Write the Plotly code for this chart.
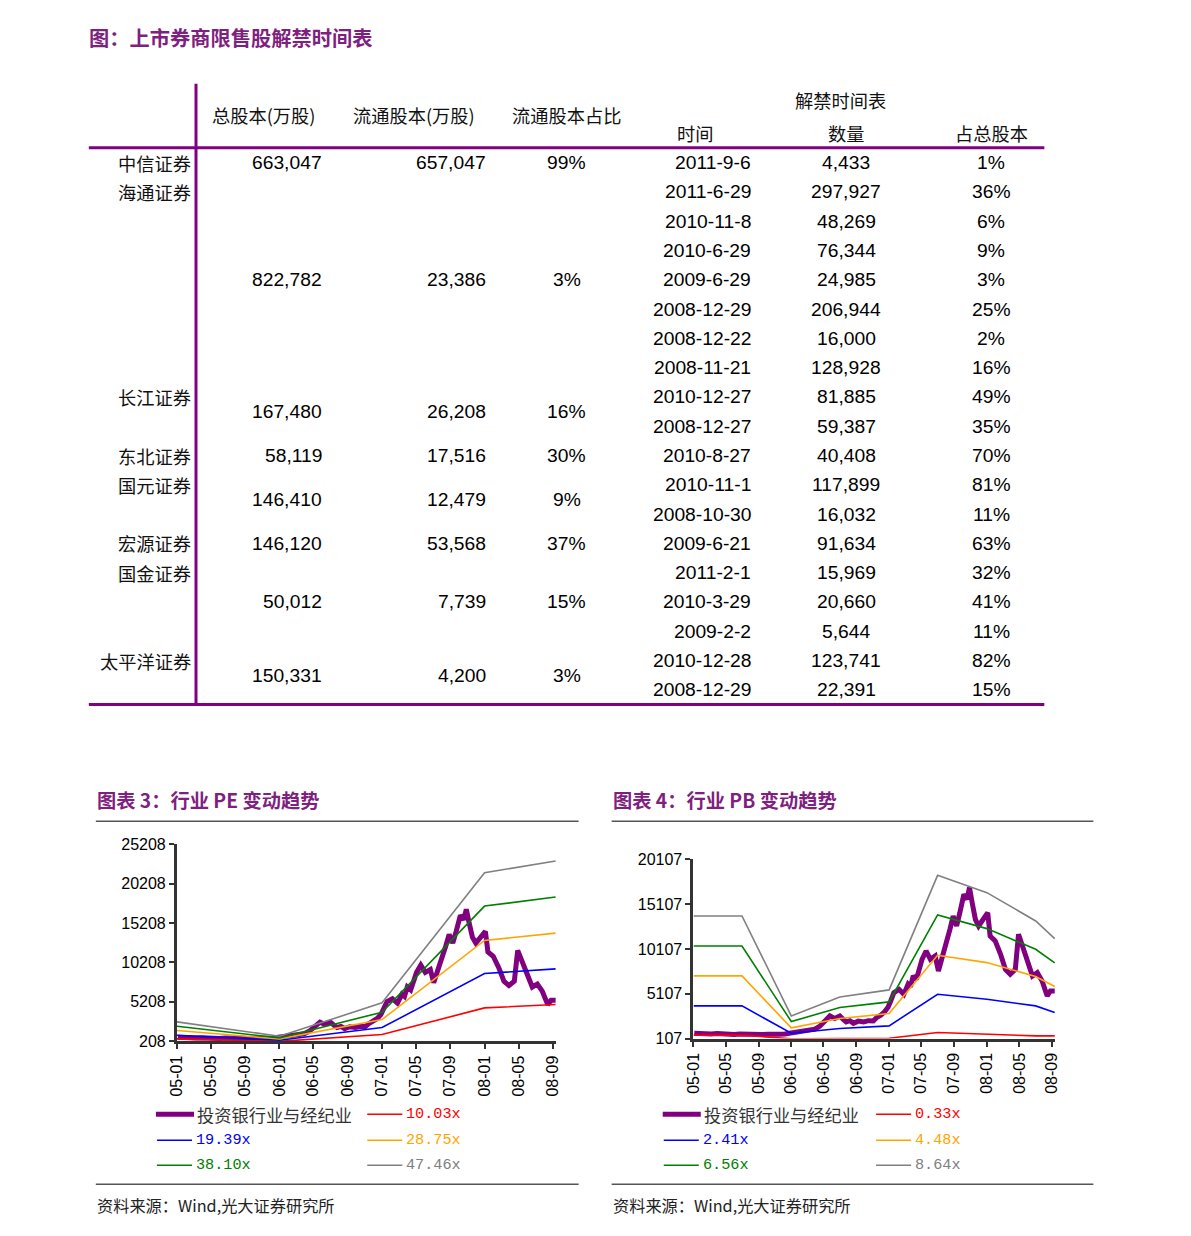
import plotly.graph_objects as go

# the page is photographed with an offset and slight shrink; these map
# reference-window pixels back to figure pixels
S, O = 0.9867, 16.5
W, H = 1191, 1236
CJK = "Noto Sans CJK SC"
NUM = "Liberation Sans"
MONO = "Liberation Mono"
PURPLE = "#800080"
TITLE_PURPLE = "#7F1F7F"

# ---------------- table data ----------------
companies = ["中信证券", "海通证券", "长江证券", "东北证券", "国元证券", "宏源证券", "国金证券", "太平洋证券"]
total_shares = [663047, 822782, 167480, 58119, 146410, 146120, 50012, 150331]
float_shares = [657047, 23386, 26208, 17516, 12479, 53568, 7739, 4200]
float_ratio = ["99%", "3%", "16%", "30%", "9%", "37%", "15%", "3%"]

unlock_dates = ["2011-9-6", "2011-6-29", "2010-11-8", "2010-6-29", "2009-6-29", "2008-12-29",
                "2008-12-22", "2008-11-21", "2010-12-27", "2008-12-27", "2010-8-27", "2010-11-1",
                "2008-10-30", "2009-6-21", "2011-2-1", "2010-3-29", "2009-2-2", "2010-12-28",
                "2008-12-29"]
unlock_amounts = [4433, 297927, 48269, 76344, 24985, 206944, 16000, 128928, 81885, 59387,
                  40408, 117899, 16032, 91634, 15969, 20660, 5644, 123741, 22391]
unlock_pct = ["1%", "36%", "6%", "9%", "3%", "25%", "2%", "16%", "49%", "35%", "70%", "81%",
              "11%", "63%", "32%", "41%", "11%", "82%", "15%"]

# ---------------- chart data ----------------
idx_dates = ["2005-01-04", "2005-01-25", "2005-02-15", "2005-03-08", "2005-03-30", "2005-04-20",
             "2005-05-12", "2005-06-02", "2005-06-23", "2005-07-14", "2005-08-04", "2005-08-25",
             "2005-09-15", "2005-10-06", "2005-10-27", "2005-11-17", "2005-12-08", "2005-12-28",
             "2006-01-20", "2006-02-10", "2006-03-10", "2006-03-30", "2006-04-18", "2006-05-02",
             "2006-05-12", "2006-05-25", "2006-06-12", "2006-07-01", "2006-07-14", "2006-07-25",
             "2006-08-08", "2006-08-21", "2006-09-08", "2006-09-28", "2006-10-16", "2006-11-03",
             "2006-11-15", "2006-12-01", "2006-12-15", "2006-12-28", "2007-01-07", "2007-01-19",
             "2007-02-07", "2007-02-25", "2007-03-13", "2007-03-22", "2007-04-01", "2007-04-13",
             "2007-05-04", "2007-05-19", "2007-06-04", "2007-06-22", "2007-07-04", "2007-07-16",
             "2007-07-28", "2007-08-16", "2007-08-28", "2007-09-10", "2007-09-22", "2007-10-07",
             "2007-10-19", "2007-10-28", "2007-11-07", "2007-11-19", "2007-12-01", "2007-12-19",
             "2008-01-04", "2008-01-13", "2008-02-01", "2008-02-21", "2008-03-10", "2008-03-28",
             "2008-04-16", "2008-04-28", "2008-05-16", "2008-06-04", "2008-06-19", "2008-07-07",
             "2008-07-25", "2008-08-13", "2008-08-25", "2008-09-10"]
idx_values = [700, 640, 690, 620, 660, 600,
              640, 560, 620, 580, 640, 600,
              560, 590, 540, 580, 620, 700,
              760, 820, 950, 1150, 1500, 1900,
              2260, 2630, 2340, 2630, 2250, 1960,
              2100, 1810, 2050, 1950, 2100, 2070,
              2440, 2700, 3100, 3600, 4300, 5240,
              5600, 5050, 6170, 5900, 7090, 6720,
              8950, 9880, 8950, 9320, 7650, 8950,
              9880, 12300, 13780, 12670, 14150, 16200,
              15640, 16950, 15270, 13410, 12670, 13410,
              14150, 11550, 11000, 9510, 7830, 7280,
              7830, 11740, 10070, 8210, 7090, 7460,
              6530, 4860, 5420, 5420]
idx_name = "投资银行业与经纪业"

pe_dates = ["2005-01-01", "2006-01-01", "2007-01-01", "2008-01-01", "2008-09-10"]
pe_names = ["10.03x", "19.39x", "28.75x", "38.10x", "47.46x"]
pe_bands = [
    [505, 190, 1055, 4445, 4869],
    [971, 335, 1945, 8810, 9403],
    [1564, 505, 2962, 13005, 13937],
    [2115, 632, 3894, 17369, 18513],
    [2666, 844, 5081, 21606, 23089],
]

pb_dates = ["2005-01-01", "2005-07-01", "2006-01-01", "2006-07-01", "2007-01-01",
            "2007-07-01", "2008-01-01", "2008-07-01", "2008-09-10"]
pb_names = ["0.33x", "2.41x", "4.48x", "6.56x", "8.64x"]
pb_bands = [
    [479, 479, 90, 90, 144, 776, 553, 404, 404],
    [3750, 3750, 702, 1222, 1520, 5051, 4494, 3750, 3007],
    [7096, 7096, 1297, 2337, 2895, 9401, 8583, 7021, 5906],
    [10442, 10442, 2003, 3564, 4196, 13899, 12375, 10070, 8546],
    [13787, 13787, 2635, 4754, 5535, 18323, 16390, 13230, 11259],
]
band_colors = ["#FF0000", "#0000FF", "#FFA500", "#008000", "#808080"]

# ---------------- helpers (window pixel -> paper) ----------------
annotations = []
shapes = []


def fx(x):
    return (x / S - O) / W


def fy(y):
    return 1 - (y / S - O) / H


def ann(x, y, text, size, color="#000", family=CJK, xanchor="left", yanchor="middle"):
    annotations.append(dict(x=fx(x), y=fy(y), xref="paper", yref="paper", text=text,
                            showarrow=False, xanchor=xanchor, yanchor=yanchor,
                            font=dict(size=size / S, color=color, family=family)))


def line(x0, y0, x1, y1, color, width):
    shapes.append(dict(type="line", xref="paper", yref="paper", x0=fx(x0), x1=fx(x1),
                       y0=fy(y0), y1=fy(y1), line=dict(color=color, width=width)))


# ---------------- table ----------------
ann(86, 37, "<b>图：上市券商限售股解禁时间表</b>", 20, TITLE_PURPLE)

line(88, 148, 1042, 148, PURPLE, 3)
line(88, 705, 1042, 705, PURPLE, 3)
line(195, 84, 195, 705, PURPLE, 3)

ann(263, 115, "总股本(万股)", 18, "#111", xanchor="center")
ann(413, 115, "流通股本(万股)", 18, "#111", xanchor="center")
ann(565, 115, "流通股本占比", 18, "#111", xanchor="center")
ann(838, 100, "解禁时间表", 18, "#111", xanchor="center")
ann(693, 133, "时间", 18, "#111", xanchor="center")
ann(844, 133, "数量", 18, "#111", xanchor="center")
ann(989, 133, "占总股本", 18, "#111", xanchor="center")

name_rows = [0, 1, 8, 10, 11, 13, 14, 17]
value_rows = [0, 4, 8.5, 10, 11.5, 13, 15, 17.5]


def row_y(r):
    return 163 + r * 29.3


for i, name in enumerate(companies):
    ann(192, row_y(name_rows[i]), name, 18, "#111", xanchor="right")
    vy = row_y(value_rows[i])
    ann(323, vy, f"{total_shares[i]:,}", 19, "#000", NUM, xanchor="right")
    ann(487, vy, f"{float_shares[i]:,}", 19, "#000", NUM, xanchor="right")
    ann(565, vy, float_ratio[i], 19, "#000", NUM, xanchor="center")

for r in range(len(unlock_dates)):
    y = row_y(r)
    ann(751, y, unlock_dates[r], 19, "#000", NUM, xanchor="right")
    ann(844, y, f"{unlock_amounts[r]:,}", 19, "#000", NUM, xanchor="center")
    ann(989, y, unlock_pct[r], 19, "#000", NUM, xanchor="center")

# ---------------- charts ----------------
fig = go.Figure()

fig.add_trace(go.Scatter(x=idx_dates, y=idx_values, mode="lines", name=idx_name,
                         line=dict(color=PURPLE, width=5), xaxis="x", yaxis="y"))
for name, vals, c in zip(pe_names, pe_bands, band_colors):
    fig.add_trace(go.Scatter(x=pe_dates, y=vals, mode="lines", name=name,
                             line=dict(color=c, width=1.6), xaxis="x", yaxis="y"))

fig.add_trace(go.Scatter(x=idx_dates, y=idx_values, mode="lines", name=idx_name,
                         line=dict(color=PURPLE, width=5), xaxis="x2", yaxis="y2"))
for name, vals, c in zip(pb_names, pb_bands, band_colors):
    fig.add_trace(go.Scatter(x=pb_dates, y=vals, mode="lines", name=name,
                             line=dict(color=c, width=1.6), xaxis="x2", yaxis="y2"))

panels = [
    ("<b>图表 3：行业 PE 变动趋势</b>", 95, 577, pe_names, 155, 365),
    ("<b>图表 4：行业 PB 变动趋势</b>", 610, 1091, pb_names, 661, 873),
]
for title, left, right, names, lx1, lx2 in panels:
    ann(left - 1, 801, title, 19, TITLE_PURPLE)
    line(left, 822, right, 822, "#555", 1.5)
    line(left, 1185, right, 1185, "#555", 1.5)
    ann(left - 1, 1206, "资料来源：Wind,光大证券研究所", 16, "#222")
    # legend
    line(lx1, 1115, lx1 + 38, 1115, PURPLE, 5)
    ann(lx1 + 39, 1115, idx_name, 17, "#333")
    rows = [(lx2, 1115, 0), (lx1, 1141, 1), (lx2, 1141, 2), (lx1, 1166, 3), (lx2, 1166, 4)]
    for x0, y, k in rows:
        line(x0 + 1, y, x0 + 36, y, band_colors[k], 1.6)
        ann(x0 + 38, y, names[k], 15, band_colors[k], MONO)

axis_common = dict(showline=True, linecolor="#333", linewidth=3, ticks="outside",
                   ticklen=5, tickwidth=2, tickcolor="#333", showgrid=False, zeroline=False,
                   tickfont=dict(family=NUM, size=16, color="#000"))
xcommon = dict(type="date", range=["2005-01-01", "2008-09-12"], tick0="2005-01-01",
               dtick="M4", tickformat="%y-%m", tickangle=-90, **axis_common)

fig.update_layout(
    width=W, height=H, margin=dict(l=0, r=0, t=0, b=0),
    paper_bgcolor="white", plot_bgcolor="white", showlegend=False,
    xaxis=dict(domain=[fx(176), fx(554.6)], anchor="y", **xcommon),
    yaxis=dict(domain=[fy(1042), fy(845)], anchor="x", range=[208, 25208],
               tickmode="linear", tick0=208, dtick=5000, tickformat="d", **axis_common),
    xaxis2=dict(domain=[fx(691.7), fx(1052.9)], anchor="y2", **xcommon),
    yaxis2=dict(domain=[fy(1039.3), fy(860)], anchor="x2", range=[107, 20107],
                tickmode="linear", tick0=107, dtick=5000, tickformat="d", **axis_common),
    annotations=annotations, shapes=shapes,
)

fig.write_html("out.html")
